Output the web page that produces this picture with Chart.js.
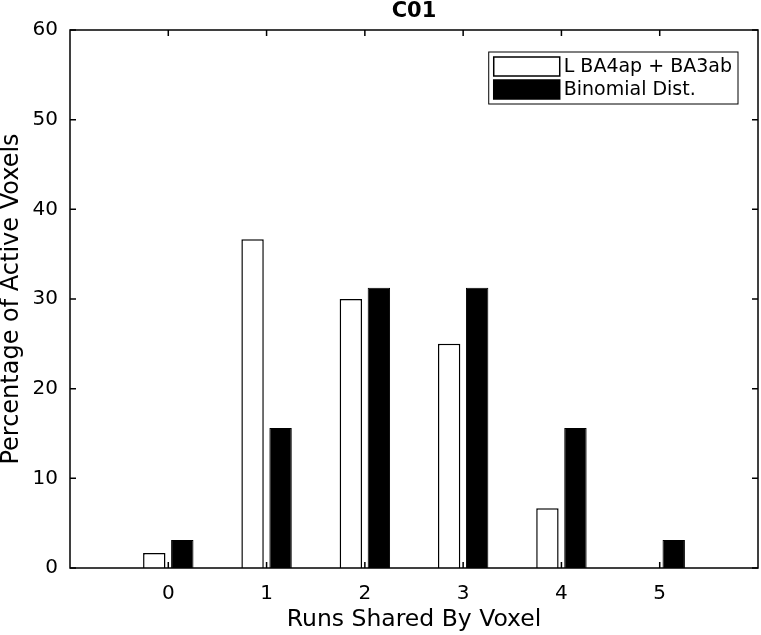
<!DOCTYPE html>
<html>
<head>
<meta charset="utf-8">
<script src="https://cdn.jsdelivr.net/npm/chart.js@4"></script>
<style>
  html, body { margin: 0; padding: 0; background: #fff; }
  #wrap { width: 761px; height: 635px; }
</style>
</head>
<body>
<div id="wrap"><canvas id="chart" width="761" height="635"></canvas></div>
<script>
// Data
const runsShared = [0, 1, 2, 3, 4, 5];
const activeVoxelPct = [1.667, 36.667, 30, 25, 6.667, 0];
const binomialPct = [3.125, 15.625, 31.25, 31.25, 15.625, 3.125];
const yTicks = [0, 10, 20, 30, 40, 50, 60];

const chartTitle = 'C01';
const FONT = 'DejaVu Sans';

// Draws the matlab style box, inward ticks, title and legend
const axesBoxPlugin = {
    id: 'axesBox',
    afterDatasetsDraw(chart) {
        const ctx = chart.ctx;
        const area = chart.chartArea;
        const xs = chart.scales.x;
        const ys = chart.scales.y;
        const tickLen = 6;

        ctx.save();
        ctx.strokeStyle = '#000';
        ctx.lineWidth = 1.5;

        // box
        ctx.strokeRect(area.left, area.top, area.right - area.left, area.bottom - area.top);

        // ticks pointing in
        ctx.beginPath();
        runsShared.forEach(v => {
            const px = xs.getPixelForValue(v);
            ctx.moveTo(px, area.bottom);
            ctx.lineTo(px, area.bottom - tickLen);
            ctx.moveTo(px, area.top);
            ctx.lineTo(px, area.top + tickLen);
        });
        yTicks.forEach(v => {
            const py = ys.getPixelForValue(v);
            ctx.moveTo(area.left, py);
            ctx.lineTo(area.left + tickLen, py);
            ctx.moveTo(area.right, py);
            ctx.lineTo(area.right - tickLen, py);
        });
        ctx.stroke();

        // title
        ctx.fillStyle = '#000';
        ctx.font = 'bold 21px "' + FONT + '"';
        ctx.textAlign = 'center';
        ctx.textBaseline = 'middle';
        ctx.fillText(chartTitle, (area.left + area.right) / 2, 12);

        // legend
        const sets = chart.data.datasets;
        ctx.font = '19px "' + FONT + '"';
        const textW = Math.max(...sets.map(d => ctx.measureText(d.label).width));
        const swW = 66, swH = 19, rowH = 23;
        const boxW = 5 + swW + 4 + textW + 6;
        const boxH = 6 + rowH * sets.length;
        const bx = area.right - 20 - boxW;
        const by = area.top + 22;

        ctx.fillStyle = '#fff';
        ctx.fillRect(bx, by, boxW, boxH);
        ctx.lineWidth = 1;
        ctx.strokeRect(bx, by, boxW, boxH);

        sets.forEach((d, i) => {
            const sy = by + 5 + i * rowH;
            ctx.fillStyle = d.backgroundColor;
            ctx.fillRect(bx + 5, sy, swW, swH);
            ctx.lineWidth = 1.5;
            ctx.strokeRect(bx + 5, sy, swW, swH);
            ctx.fillStyle = '#000';
            ctx.textAlign = 'left';
            ctx.textBaseline = 'middle';
            ctx.fillText(d.label, bx + 5 + swW + 4, sy + swH / 2 + 1);
        });

        ctx.restore();
    }
};

const ctx = document.getElementById('chart').getContext('2d');

new Chart(ctx, {
    type: 'bar',
    data: {
        datasets: [{
            label: 'L BA4ap + BA3ab',
            data: runsShared.map((r, i) => ({ x: r, y: activeVoxelPct[i] })),
            backgroundColor: '#ffffff',
            borderColor: '#000000',
            borderWidth: 1.5,
            categoryPercentage: 0.57,
            barPercentage: 0.8
        }, {
            label: 'Binomial Dist.',
            data: runsShared.map((r, i) => ({ x: r, y: binomialPct[i] })),
            backgroundColor: '#000000',
            borderColor: '#000000',
            borderWidth: 1,
            categoryPercentage: 0.57,
            barPercentage: 0.8
        }]
    },
    options: {
        responsive: false,
        animation: false,
        layout: {
            padding: { top: 30, right: 3, left: 0, bottom: 0 }
        },
        plugins: {
            legend: { display: false },
            tooltip: { enabled: false },
            title: { display: false }
        },
        scales: {
            x: {
                type: 'linear',
                min: -1,
                max: 6,
                offset: false,
                grid: { display: false, drawTicks: false, offset: false },
                border: { display: false },
                ticks: {
                    stepSize: 1,
                    color: '#000',
                    padding: 14,
                    maxRotation: 0,
                    font: { family: FONT, size: 20 },
                    callback: v => (v >= 0 && v <= 5) ? String(v) : ''
                },
                title: {
                    display: true,
                    text: 'Runs Shared By Voxel',
                    color: '#000',
                    font: { family: FONT, size: 23.5 },
                    padding: { top: 0, bottom: 1 }
                },
                afterFit: scale => {
                    scale.height = 67;
                    scale.paddingLeft = 0;
                    scale.paddingRight = 0;
                }
            },
            y: {
                min: 0,
                max: 60,
                grid: { display: false, drawTicks: false },
                border: { display: false },
                ticks: {
                    stepSize: 10,
                    color: '#000',
                    padding: 12,
                    font: { family: FONT, size: 20 }
                },
                title: {
                    display: true,
                    text: 'Percentage of Active Voxels',
                    color: '#000',
                    font: { family: FONT, size: 24 },
                    padding: { top: -3, bottom: 0 }
                },
                afterFit: scale => { scale.width = 70; }
            }
        }
    },
    plugins: [axesBoxPlugin]
});
</script>
</body>
</html>
